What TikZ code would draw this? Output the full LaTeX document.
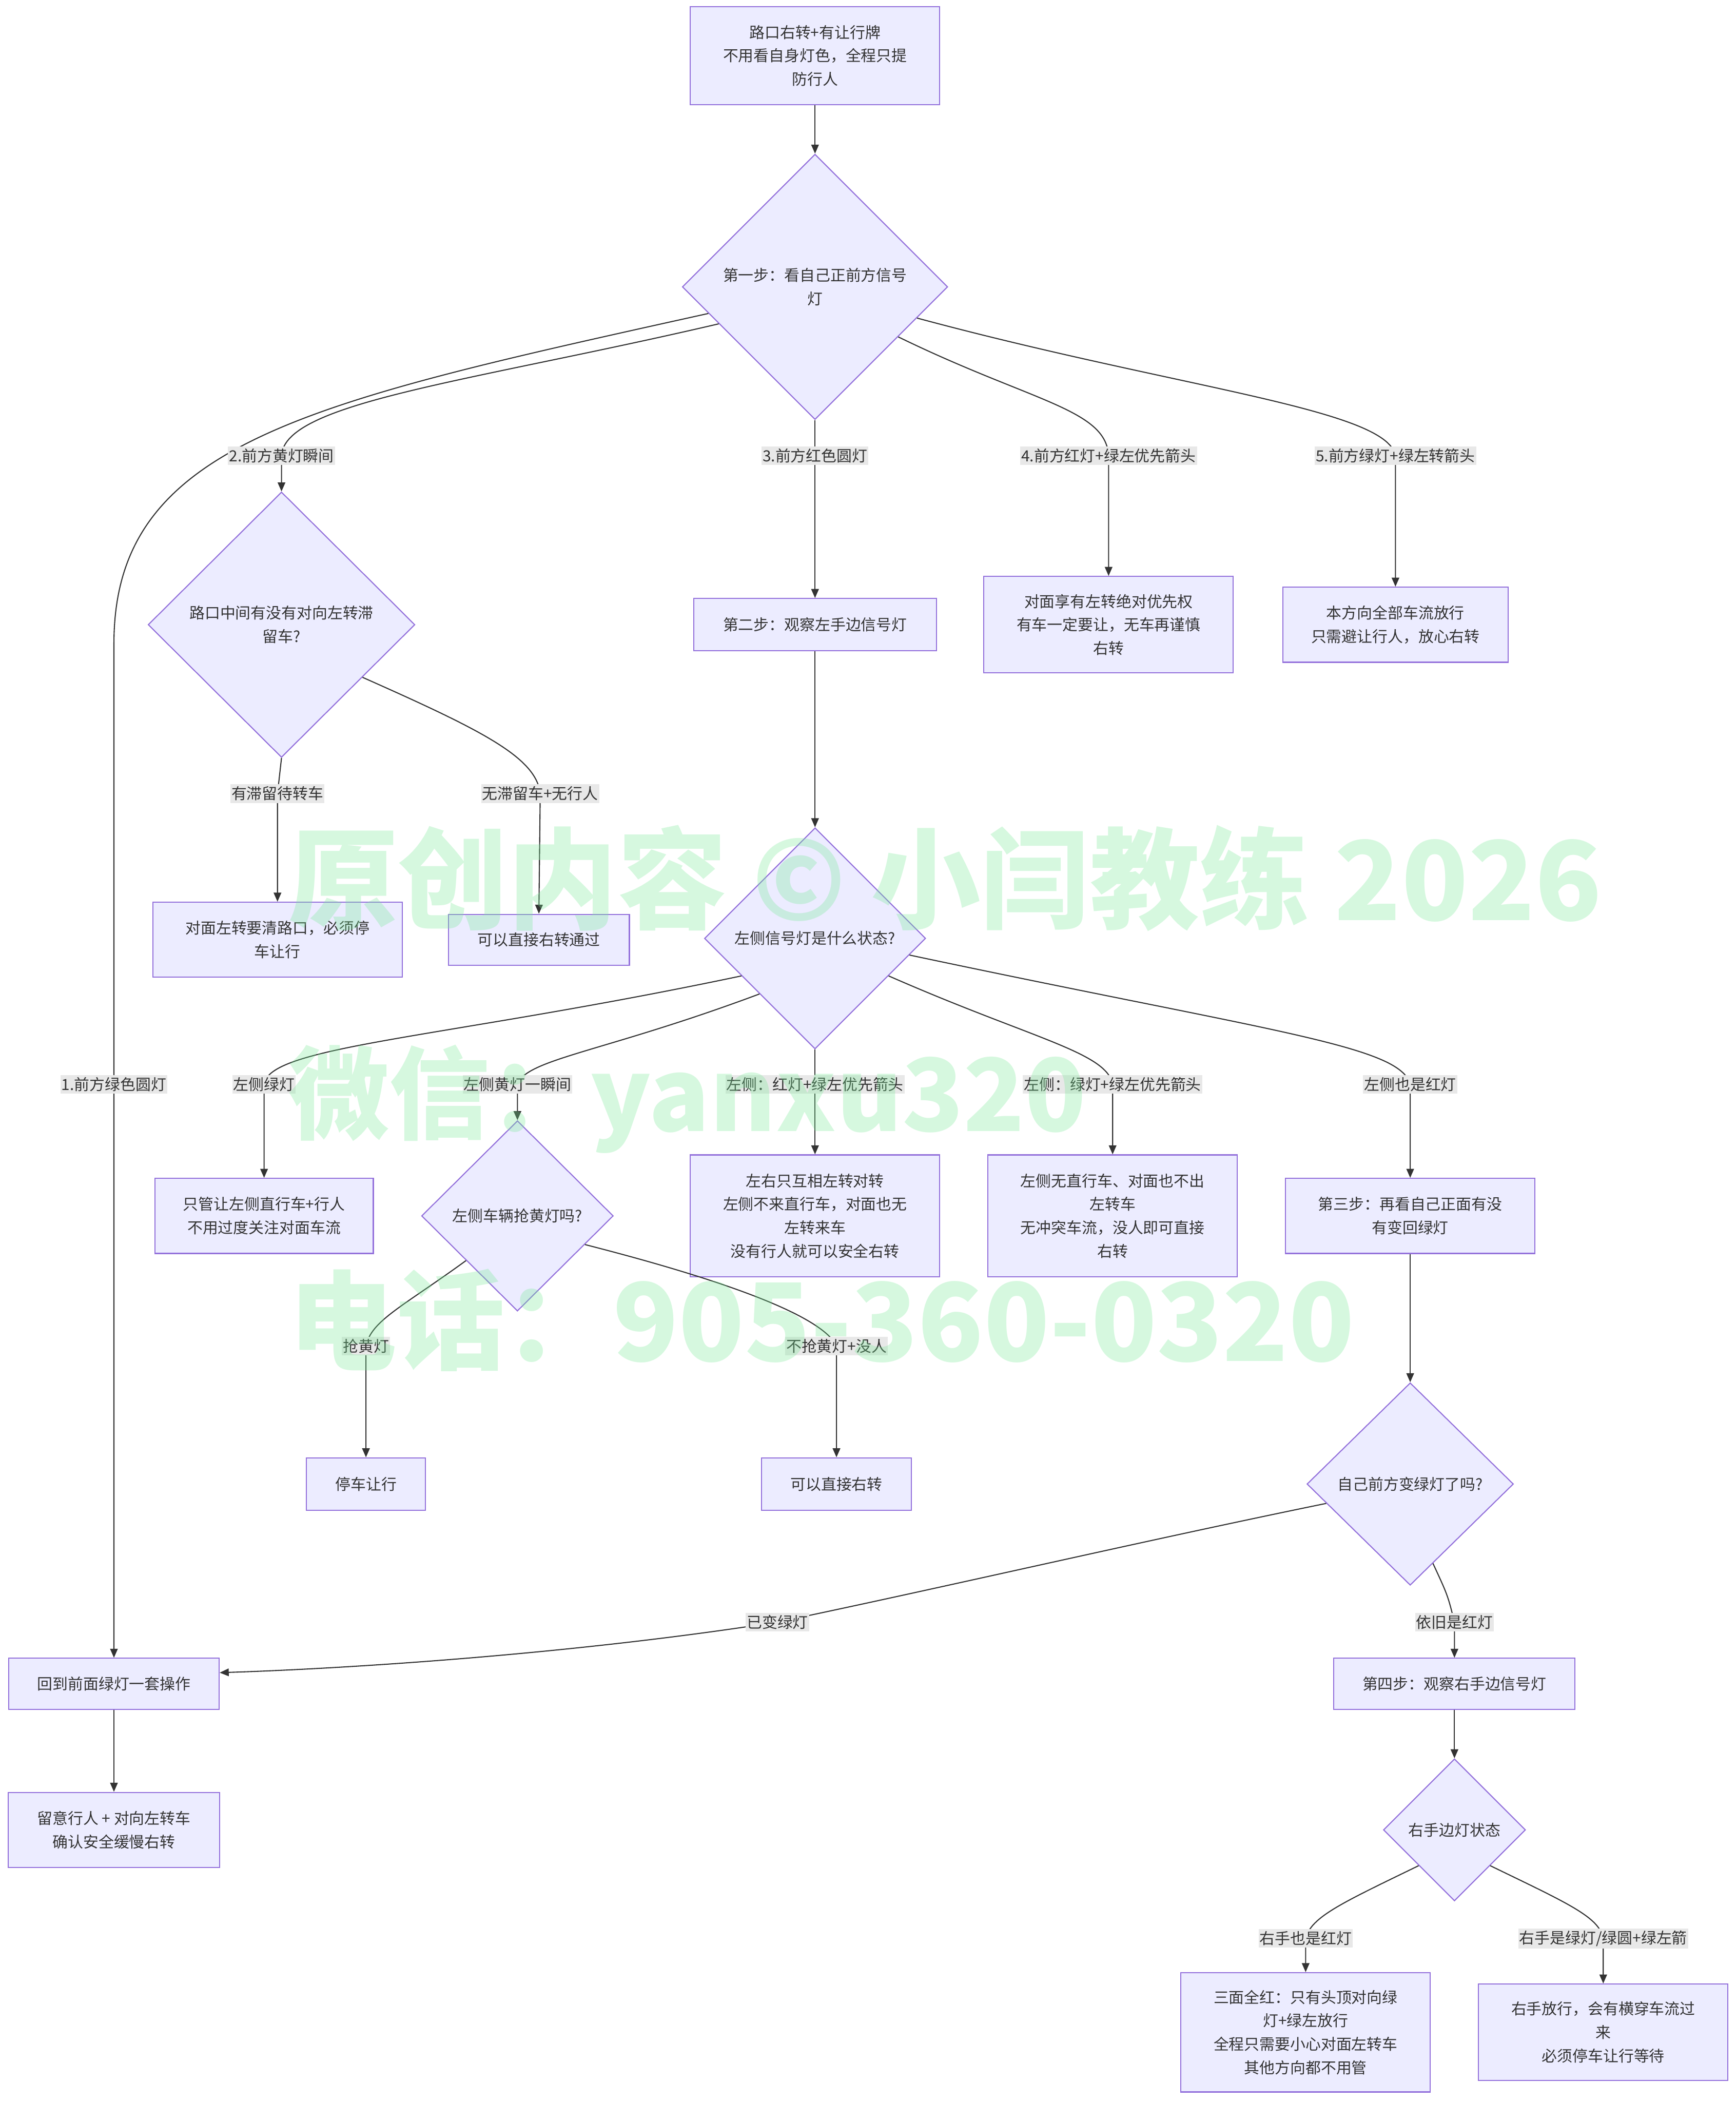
\documentclass[tikz,border=0pt]{standalone}
\usepackage{fontspec}
\usepackage{graphicx}
\setmainfont{Noto Sans CJK SC}
\usetikzlibrary{shapes.geometric, arrows.meta}

\definecolor{boxfill}{HTML}{ECECFF}
\definecolor{boxline}{HTML}{9370DB}
\definecolor{ink}{HTML}{333333}
\definecolor{lblbg}{HTML}{E8E8E8}
\definecolor{wmgreen}{RGB}{120,235,150}
\newcommand{\upx}{0.026116cm}

\tikzset{
  box/.style={rectangle, draw=boxline, fill=boxfill, line width=0.6pt, text=ink, align=center, inner sep=0pt},
  decision/.style={diamond, aspect=1, draw=boxline, fill=boxfill, line width=0.6pt, text=ink, align=center, inner sep=0pt},
  wh/.style 2 args={minimum width=#1*\upx, minimum height=#2*\upx},
  flow/.style={draw=ink, line width=0.6pt, -{Triangle[length=5pt, width=4.2pt]}},
  lbl/.style={fill=lblbg, text=ink, inner xsep=0.6pt, inner ysep=1.2pt},
  wmark/.style={text=wmgreen, opacity=0.3, anchor=west, inner sep=0pt, font=\bfseries},
}

\begin{document}
\begin{tikzpicture}[x=\upx, y=-\upx, font=\fontsize{8.5pt}{13pt}\selectfont]
    \useasboundingbox[fill=white] (0,0) rectangle (1295,1568);

    % 起点与第一步
    \node[box, wh={186}{73}] (start) at (608,41.5) {路口右转+有让行牌\\不用看自身灯色，全程只提\\防行人};
    \node[decision, wh={198}{198}] (d1) at (608,214) {第一步：看自己正前方信号\\灯};

    % 第一层分支
    \node[decision, wh={199}{198}] (d2) at (210,466) {路口中间有没有对向左转滞\\留车?};
    \node[box, wh={181}{39}] (step2) at (608,466) {第二步：观察左手边信号灯};
    \node[box, wh={186}{72}] (yield4) at (827,466) {对面享有左转绝对优先权\\有车一定要让，无车再谨慎\\右转};
    \node[box, wh={168}{56}] (go5) at (1041,466) {本方向全部车流放行\\只需避让行人，放心右转};

    \node[box, wh={186}{56}] (wait2) at (207,701) {对面左转要清路口，必须停\\车让行};
    \node[box, wh={135}{38}] (pass2) at (402,701) {可以直接右转通过};
    \node[decision, wh={165}{165}] (d3) at (608,700) {左侧信号灯是什么状态?};

    % 左侧信号灯分支
    \node[box, wh={163}{56}] (onlyleft) at (197,907) {只管让左侧直行车+行人\\不用过度关注对面车流};
    \node[decision, wh={143}{142}] (d4) at (386,907) {左侧车辆抢黄灯吗?};
    \node[box, wh={186}{91}] (mutual) at (608,907) {左右只互相左转对转\\左侧不来直行车，对面也无\\左转来车\\没有行人就可以安全右转};
    \node[box, wh={186}{91}] (noconf) at (830,907) {左侧无直行车、对面也不出\\左转车\\无冲突车流，没人即可直接\\右转};
    \node[box, wh={186}{56}] (step3) at (1052,907) {第三步：再看自己正面有没\\有变回绿灯};

    \node[box, wh={89}{39}] (stop4) at (273,1107) {停车让行};
    \node[box, wh={112}{39}] (turn4) at (624,1107) {可以直接右转};
    \node[decision, wh={154}{151}] (d5) at (1052,1107) {自己前方变绿灯了吗?};

    % 第三步、第四步
    \node[box, wh={157}{38}] (back) at (85,1256) {回到前面绿灯一套操作};
    \node[box, wh={180}{38}] (step4) at (1085,1256) {第四步：观察右手边信号灯};
    \node[box, wh={158}{56}] (final) at (85,1365) {留意行人 + 对向左转车\\确认安全缓慢右转};
    \node[decision, wh={106}{106}] (d6) at (1085,1365) {右手边灯状态};

    \node[box, wh={186}{89}] (allred) at (974,1516) {三面全红：只有头顶对向绿\\灯+绿左放行\\全程只需要小心对面左转车\\其他方向都不用管};
    \node[box, wh={186}{72}] (rgreen) at (1196,1516) {右手放行，会有横穿车流过\\来\\必须停车让行等待};

    % 标签位置
    \coordinate (l1) at (85,809);
    \coordinate (l2) at (210,340);
    \coordinate (l3) at (608,340);
    \coordinate (l4) at (827,340);
    \coordinate (l5) at (1041,340);
    \coordinate (la) at (207,592);
    \coordinate (lb) at (403,592);
    \coordinate (lc) at (197,809);
    \coordinate (ld) at (386,809);
    \coordinate (le) at (608,809);
    \coordinate (lf) at (830,809);
    \coordinate (lg) at (1052,809);
    \coordinate (lh) at (273,1004);
    \coordinate (li) at (624,1004);
    \coordinate (lj) at (580,1210);
    \coordinate (lk) at (1085,1210);
    \coordinate (ll) at (974,1446);
    \coordinate (lm) at (1196,1446);

    % 连线
    \draw[flow] (start.south) -- (d1.north);
    \draw[flow] (d1.194) .. controls (230,300) and (85,330) .. (85,480) -- (l1) -- (back.north);
    \draw[flow] (d1.201) .. controls (350,285) and (212,300) .. (l2) -- (d2.north);
    \draw[flow] (d1.south) -- (l3) -- (step2.north);
    \draw[flow] (d1.-31) .. controls (770,300) and (825,305) .. (l4) -- (yield4.north);
    \draw[flow] (d1.-17) .. controls (880,290) and (1035,305) .. (l5) -- (go5.north);

    \draw[flow] (d2.south) -- (la) -- (wait2.north);
    \draw[flow] (d2.-33) .. controls (360,545) and (400,565) .. (lb) -- (pass2.north);
    \draw[flow] (step2.south) -- (d3.north);

    \draw[flow] (d3.207) .. controls (330,775) and (200,780) .. (lc) -- (onlyleft.north);
    \draw[flow] (d3.225) .. controls (450,785) and (392,790) .. (ld) -- (d4.north);
    \draw[flow] (d3.south) -- (le) -- (mutual.north);
    \draw[flow] (d3.-27) .. controls (770,775) and (826,785) .. (lf) -- (noconf.north);
    \draw[flow] (d3.-10) .. controls (950,770) and (1045,780) .. (lg) -- (step3.north);

    \draw[flow] (d4.221) .. controls (300,975) and (277,985) .. (lh) -- (stop4.north);
    \draw[flow] (d4.-23) .. controls (560,960) and (615,985) .. (li) -- (turn4.north);
    \draw[flow] (step3.south) -- (d5.north);

    \draw[flow] (d5.193) .. controls (850,1150) and (700,1185) .. (lj) .. controls (420,1235) and (250,1245) .. (back.6);
    \draw[flow] (d5.-74) .. controls (1080,1190) .. (lk) -- (step4.north);
    \draw[flow] (back.south) -- (final.north);
    \draw[flow] (step4.south) -- (d6.north);
    \draw[flow] (d6.225) .. controls (1000,1420) and (978,1430) .. (ll) -- (allred.north);
    \draw[flow] (d6.-45) .. controls (1170,1420) and (1193,1430) .. (lm) -- (rgreen.north);

    % 连线标签
    \node[lbl] at (l1) {1.前方绿色圆灯};
    \node[lbl] at (l2) {2.前方黄灯瞬间};
    \node[lbl] at (l3) {3.前方红色圆灯};
    \node[lbl] at (l4) {4.前方红灯+绿左优先箭头};
    \node[lbl] at (l5) {5.前方绿灯+绿左转箭头};
    \node[lbl] at (la) {有滞留待转车};
    \node[lbl] at (lb) {无滞留车+无行人};
    \node[lbl] at (lc) {左侧绿灯};
    \node[lbl] at (ld) {左侧黄灯一瞬间};
    \node[lbl] at (le) {左侧：红灯+绿左优先箭头};
    \node[lbl] at (lf) {左侧：绿灯+绿左优先箭头};
    \node[lbl] at (lg) {左侧也是红灯};
    \node[lbl] at (lh) {抢黄灯};
    \node[lbl] at (li) {不抢黄灯+没人};
    \node[lbl] at (lj) {已变绿灯};
    \node[lbl] at (lk) {依旧是红灯};
    \node[lbl] at (ll) {右手也是红灯};
    \node[lbl] at (lm) {右手是绿灯/绿圆+绿左箭};

    % 水印
    \node[wmark] (wm1) at (215,655) {\resizebox{25.59cm}{!}{原创内容 © 小闫教练 2026}};
    \node[wmark] (wm2) at (215,820) {\resizebox{15.54cm}{!}{微信：yanxu320}};
    \node[wmark] (wm3) at (215,985) {\resizebox{20.76cm}{!}{电话：905-360-0320}};
\end{tikzpicture}
\end{document}
